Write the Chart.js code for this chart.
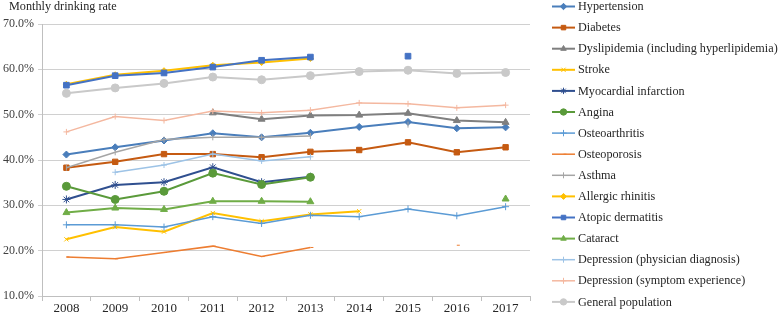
<!DOCTYPE html>
<html>
<head>
<meta charset="utf-8">
<script src="https://cdn.jsdelivr.net/npm/chart.js@4"></script>
<style>
  html, body { margin: 0; padding: 0; background: #fff; }
  #wrap { width: 778px; height: 315px; position: relative; }
</style>
</head>
<body>
<div id="wrap"><canvas id="graphCanvas"></canvas></div>
<script>
var years = ['2008', '2009', '2010', '2011', '2012', '2013', '2014', '2015', '2016', '2017'];
var yTicks = [10, 20, 30, 40, 50, 60, 70];

var hypertension      = [41.2, 42.8, 44.3, 45.9, 45.0, 46.0, 47.3, 48.4, 47.0, 47.2];
var diabetes          = [38.3, 39.6, 41.3, 41.3, 40.6, 41.8, 42.2, 43.9, 41.7, 42.8];
var dyslipidemia      = [null, null, null, 50.4, 49.0, 49.8, 49.9, 50.3, 48.7, 48.3];
var stroke            = [22.5, 25.2, 24.2, 28.3, 26.5, 28.0, 28.7, null, null, null];
var myocardial        = [31.3, 34.5, 35.1, 38.4, 35.1, 36.3, null, null, null, null];
var angina            = [34.2, 31.3, 33.1, 37.1, 34.6, 36.2, null, null, null, null];
var osteoarthritis    = [25.7, 25.7, 25.2, 27.5, 26.0, 27.8, 27.5, 29.2, 27.7, 29.7];
var osteoporosis      = [18.6, 18.2, 19.6, 21.0, 18.7, 20.7, null, null, 21.2, null];
var asthma            = [38.3, 41.7, 44.5, 45.0, 45.0, 45.3, null, 47.8, null, null];
var allergicRhinitis  = [56.7, 58.8, 59.7, 60.9, 61.5, 62.4, null, null, null, null];
var atopicDermatitis  = [56.5, 58.6, 59.2, 60.5, 62.0, 62.7, null, 62.9, null, null];
var cataract          = [28.4, 29.4, 29.1, 30.9, 30.9, 30.8, null, null, null, 31.4];
var depressionDiag    = [null, 37.3, 38.9, 41.3, 39.8, 40.7, null, null, null, null];
var depressionSymptom = [46.2, 49.6, 48.7, 50.8, 50.4, 51.0, 52.6, 52.4, 51.5, 52.1];
var generalPopulation = [54.7, 55.9, 56.9, 58.3, 57.7, 58.6, 59.5, 59.8, 59.1, 59.3];

var FONT = "'Liberation Serif', 'Times New Roman', serif";

function series(label, data, color, style, radius, width, rot) {
  return {
    label: label,
    data: data,
    borderColor: color,
    backgroundColor: color,
    pointBackgroundColor: color,
    pointBorderColor: color,
    pointStyle: style,
    pointRadius: radius,
    pointRotation: rot || 0,
    pointBorderWidth: 1,
    pointHoverRadius: radius,
    borderWidth: width,
    tension: 0,
    spanGaps: false
  };
}

var datasets = [
  series('Hypertension', hypertension, '#4a7ebb', 'rectRot', 3.5, 2),
  series('Diabetes', diabetes, '#c55a11', 'rect', 3.8, 2),
  series('Dyslipidemia (including hyperlipidemia)', dyslipidemia, '#7f7f7f', 'triangle', 4, 2),
  series('Stroke', stroke, '#ffc000', 'crossRot', 3, 2),
  series('Myocardial infarction', myocardial, '#2f4f8f', 'star', 4, 2),
  series('Angina', angina, '#5a9a3a', 'circle', 4, 2),
  series('Osteoarthritis', osteoarthritis, '#5b9bd5', 'cross', 3.5, 1.5),
  series('Osteoporosis', osteoporosis, '#ed7d31', 'dash', 3, 1.5),
  series('Asthma', asthma, '#a5a5a5', 'line', 3, 1.5, 90),
  series('Allergic rhinitis', allergicRhinitis, '#ffc000', 'rectRot', 3, 2),
  series('Atopic dermatitis', atopicDermatitis, '#4472c4', 'rect', 4, 2),
  series('Cataract', cataract, '#70ad47', 'triangle', 4, 2),
  series('Depression (physician diagnosis)', depressionDiag, '#9dc3e6', 'cross', 3, 1.5),
  series('Depression (symptom experience)', depressionSymptom, '#f4b8a0', 'cross', 3, 1.5),
  series('General population', generalPopulation, '#c9c9c9', 'circle', 4, 2)
];
datasets.forEach(function (d, i) { d.order = -i; });

// legend + axis title drawn on the canvas, Excel style (line with marker in the middle)
var sideLegend = {
  id: 'sideLegend',
  afterDraw: function (chart) {
    var ctx = chart.ctx;
    ctx.save();
    ctx.font = '12.2px ' + FONT;
    ctx.fillStyle = '#262626';
    ctx.textBaseline = 'middle';
    ctx.textAlign = 'left';
    ctx.fillText('Monthly drinking rate', 9, 7);
    chart.data.datasets.forEach(function (ds, i) {
      var y = 6.5 + i * 21.1;
      ctx.strokeStyle = ds.borderColor;
      ctx.lineWidth = ds.borderWidth;
      ctx.beginPath();
      ctx.moveTo(552, y);
      ctx.lineTo(575, y);
      ctx.stroke();
      ctx.fillStyle = ds.pointBackgroundColor;
      ctx.lineWidth = 1;
      Chart.helpers.drawPoint(ctx, {
        pointStyle: ds.pointStyle,
        radius: Math.min(ds.pointRadius, 3.2),
        rotation: ds.pointRotation,
        borderWidth: 1
      }, 563.5, y);
      ctx.fillStyle = '#262626';
      ctx.fillText(ds.label, 578, y + 0.5);
    });
    ctx.restore();
  }
};

var chartdata = { labels: years, datasets: datasets };

var graphTarget = document.getElementById('graphCanvas');
var lineGraph = new Chart(graphTarget, {
  type: 'line',
  data: chartdata,
  plugins: [sideLegend],
  options: {
    responsive: true,
    maintainAspectRatio: false,
    animation: false,
    layout: { padding: { top: 24, right: 248, left: 0, bottom: 0 } },
    plugins: {
      legend: { display: false },
      title: { display: false },
      tooltip: { enabled: false }
    },
    scales: {
      x: {
        type: 'category',
        offset: true,
        grid: {
          offset: true,
          drawOnChartArea: false,
          drawTicks: true,
          tickLength: 5,
          color: '#bfbfbf'
        },
        border: { display: true, color: '#bfbfbf' },
        ticks: {
          padding: 0,
          color: '#262626',
          font: { family: FONT, size: 13 },
          maxRotation: 0
        },
        afterFit: function (scale) { scale.height = 19; }
      },
      y: {
        min: 10,
        max: 70,
        afterBuildTicks: function (scale) {
          scale.ticks = yTicks.map(function (v) { return { value: v }; });
        },
        grid: {
          color: '#d0d0d0',
          drawTicks: true,
          tickLength: 4
        },
        border: { display: true, color: '#bfbfbf' },
        ticks: {
          padding: 4,
          color: '#404040',
          font: { family: FONT, size: 12 },
          callback: function (v) { return v.toFixed(1) + '%'; }
        },
        afterFit: function (scale) { scale.width = 42; }
      }
    }
  }
});
</script>
</body>
</html>
